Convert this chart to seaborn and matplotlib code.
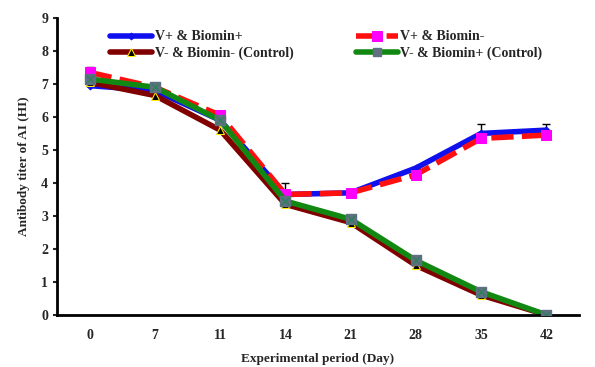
import matplotlib
matplotlib.use("Agg")
import matplotlib.pyplot as plt
import seaborn as sns
import pandas as pd
import numpy as np
from matplotlib.lines import Line2D

days = ["0", "7", "11", "14", "21", "28", "35", "42"]
vp_bp = [6.95, 6.8, 5.9, 3.65, 3.7, 4.45, 5.5, 5.6]
vp_bm = [7.35, 6.9, 6.05, 3.65, 3.7, 4.25, 5.35, 5.45]
vm_bm = [7.05, 6.65, 5.6, 3.35, 2.8, 1.5, 0.6, 0.0]
vm_bp = [7.15, 6.9, 5.9, 3.45, 2.9, 1.65, 0.7, 0.0]
err_vp_bp = [0.12, 0.0, 0.0, 0.35, 0.0, 0.0, 0.3, 0.2]
err_vp_bm = [0.15, 0.0, 0.0, 0.0, 0.0, 0.0, 0.0, 0.0]

names = ["V+ & Biomin+", "V+ & Biomin-", "V- & Biomin- (Control)", "V- & Biomin+ (Control)"]
series = [vp_bp, vp_bm, vm_bm, vm_bp]

rows = []
for n, s in zip(names, series):
    for i, v in enumerate(s):
        rows.append({"pos": i, "val": v, "group": n})
df = pd.DataFrame(rows)

sns.set_style("white")
plt.rcParams["font.family"] = ["Liberation Serif", "DejaVu Serif"]
plt.rcParams["font.weight"] = "bold"

fig = plt.figure(figsize=(5.95, 3.67), dpi=100)
ax = fig.add_axes([0.096, 0.142, 0.877, 0.809])

styles = {
    "V+ & Biomin+": dict(color="#1010ee", marker="D", ms=3.5, mfc="#1010ee", mec="#1010ee", ls="-"),
    "V+ & Biomin-": dict(color="#ff1010", marker="s", ms=7, mfc="#ff00ff", mec="#ff00ff", ls=(0, (4, 1.5))),
    "V- & Biomin- (Control)": dict(color="#800000", marker="^", ms=6, mfc="black", mec="#ffee00", ls="-"),
    "V- & Biomin+ (Control)": dict(color="#118811", marker="X", ms=0, mfc="#607080", mec="#607080", ls="-"),
}
for n in names:
    st = styles[n]
    sub = df[df["group"] == n]
    sns.lineplot(data=sub, x="pos", y="val", ax=ax, color=st["color"], lw=4,
                 linestyle=st["ls"], marker=st["marker"], markersize=st["ms"],
                 markerfacecolor=st["mfc"], markeredgecolor=st["mec"], label=n)
    if n == "V- & Biomin+ (Control)":
        ax.scatter(sub["pos"], sub["val"], marker="s", s=50, color="#5f7080", zorder=5)
        ax.scatter(sub["pos"], sub["val"], marker="x", s=30, color="#2f7f5f", lw=1, zorder=6)

x = np.arange(len(days))
ax.errorbar(x, vp_bp, yerr=[np.zeros(8), err_vp_bp], fmt="none", ecolor="black", elinewidth=1, capsize=3, zorder=1)
ax.errorbar(x, vp_bm, yerr=[np.zeros(8), err_vp_bm], fmt="none", ecolor="black", elinewidth=1, capsize=3, zorder=1)

handles, labels = ax.get_legend_handles_labels()
handles[3] = Line2D([], [], color="#118811", lw=4, marker="s", ms=6, mfc="#5f7080", mec="#5f7080")
order = [0, 2, 1, 3]
leg = ax.legend([handles[i] for i in order], [labels[i] for i in order], ncol=2,
                loc="upper center", bbox_to_anchor=(0.516, 1.0),
                frameon=False, handlelength=3, columnspacing=4.5, handletextpad=0.2,
                labelspacing=0.25, prop={"weight": "bold", "size": 10})

ax.set_xlim(-0.5, 7.5)
ax.set_ylim(0, 9)
ax.set_xticks(x)
ax.set_xticklabels(days)
ax.set_yticks(range(10))
ax.tick_params(axis="x", length=0, labelsize=10, pad=10)
ax.tick_params(axis="y", length=3, width=1.5, direction="out", left=True, labelsize=10)
for lab in ax.get_xticklabels() + ax.get_yticklabels():
    lab.set_fontweight("bold")
ax.set_xlabel("Experimental period (Day)", fontsize=9.5, fontweight="bold", labelpad=8)
ax.set_ylabel("Antibody titer of AI (HI)", fontsize=9.5, fontweight="bold", labelpad=8)
sns.despine(ax=ax)
for sp in ["left", "bottom"]:
    ax.spines[sp].set_linewidth(2)
    ax.spines[sp].set_color("black")

fig.savefig("out.png", dpi=100)
